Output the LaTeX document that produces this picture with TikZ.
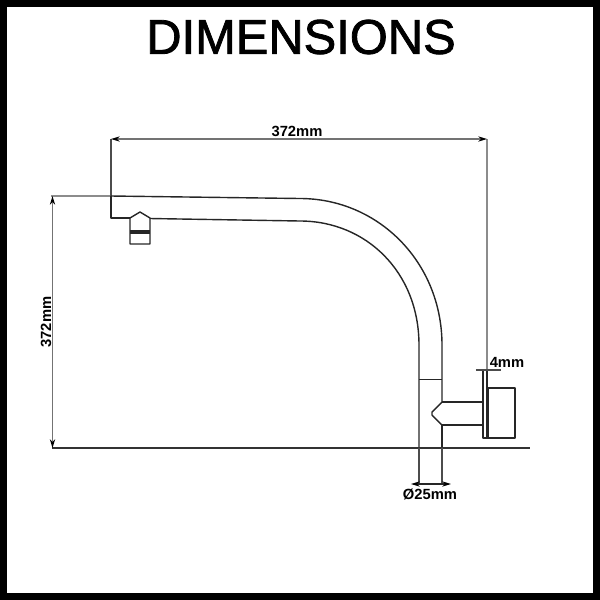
\documentclass[tikz,border=0pt]{standalone}
\usepackage{fontspec}
\setmainfont{Liberation Sans}
\newfontfamily\headingfont[FakeBold=1.6]{Liberation Sans}
\usetikzlibrary{arrows.meta}
\begin{document}
\begin{tikzpicture}[
    x=0.02cm, y=-0.02cm,
    outline/.style={draw=black!85, line width=0.8pt, line join=round},
    heavy/.style={draw=black!85, line width=1.5pt},
    extension/.style={draw=black!45, line width=0.6pt},
    dimension/.style={draw=black!55, line width=0.7pt, {Stealth[black,length=5pt,width=3pt]}-{Stealth[black,length=5pt,width=3pt]}},
    measure/.style={font=\bfseries\fontsize{8.4}{10}\selectfont, inner sep=0pt},
    title/.style={font=\headingfont\fontsize{27.8}{30}\selectfont, inner sep=0pt}
]
    \useasboundingbox (0,0) rectangle (600,600);
    % Frame
    \draw [line width=4.2pt] (3.5,3.5) rectangle (596.5,596.5);
    \node [title] (heading) at (301,37) {DIMENSIONS};

    % Extension lines
    \draw [extension] (51,196) -- (110,196);
    \draw [extension] (487,139) -- (487,370);
    \draw [extension, line width=0.8pt, draw=black!70] (111,139) -- (111,196);

    % Spout
    \draw [outline] (111,196) -- (300,198.5) .. controls (378,198.5) and (442,262) .. (442,345) -- (442,402);
    \draw [outline] (111,196) -- (111,218) -- (130,218);
    \draw [outline] (150,218.5) -- (300,221) .. controls (366,221) and (419,272) .. (419,345) -- (419,448);
    \draw [outline, line width=0.5pt] (419,379) -- (442,379);
    \draw [outline] (442,425) -- (442,448);

    % Nozzle
    \draw [outline] (130,244) -- (130,218) -- (140,212) -- (150,218) -- (150,244) -- cycle;
    \draw [heavy, line width=2pt] (130,232) -- (150,232);

    % Wall arm and plate
    \draw [outline] (442,402) -- (483,402);
    \draw [outline] (442,425) -- (483,425);
    \draw [outline] (442,402) -- (432,412) -- (432,415) -- (442,425);
    \draw [outline] (483,370) -- (483,438) -- (488,438);
    \draw [heavy] (487,370) -- (487,438);
    \draw [outline] (488,388) rectangle (515,438);

    % Wall line
    \draw [draw=black!80, line width=0.9pt] (52,448) -- (530,448);

    % Dimensions
    \draw [dimension] (111,139) -- (487,139);
    \draw [dimension] (52.5,196) -- (52.5,448);
    \draw [extension, draw=black!70] (419,448) -- (419,484);
    \draw [extension, draw=black!70] (442,448) -- (442,484);
    \draw [draw=black!85, line width=0.7pt, {Stealth[black,length=5pt,width=3pt]}-{Stealth[black,length=5pt,width=3pt]}] (411,484) -- (451,484);
    \draw [draw=black!70, line width=0.8pt] (476,370) -- (501,370);

    % Labels
    \node [measure] (topsize) at (297,131) {372mm};
    \node [measure, rotate=90] (leftsize) at (46,322) {372mm};
    \node [measure] (platesize) at (507,362) {4mm};
    \node [measure] (pipesize) at (430,494) {Ø25mm};
\end{tikzpicture}
\end{document}
